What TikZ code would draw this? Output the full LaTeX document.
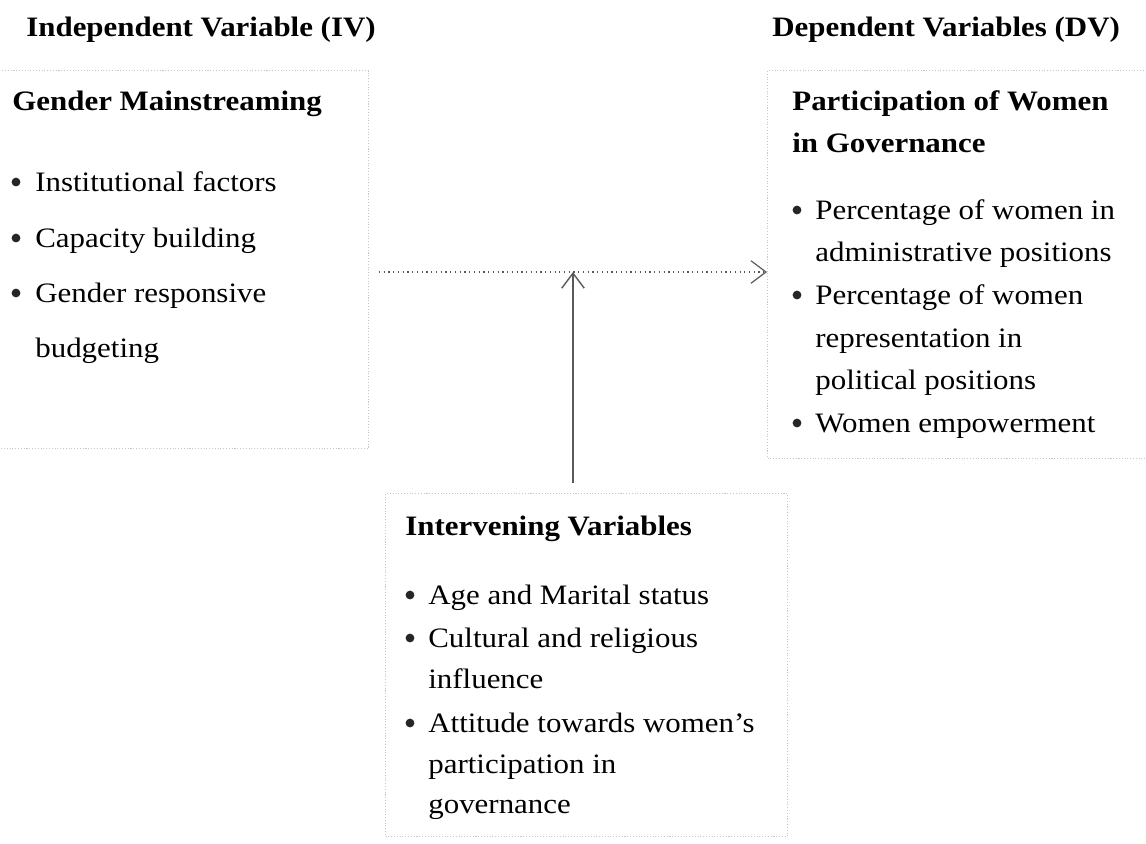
\documentclass[tikz,border=0pt]{standalone}
\usepackage{fontspec}
\setmainfont[FakeStretch = 1.1]{Liberation Serif}
\usetikzlibrary{arrows.meta}

\tikzset{
  frame/.style = {draw = black!22, densely dotted, line width = 0.6pt, anchor = north west},
  txt/.style = {anchor = base west, inner sep = 0pt},
  head/.style = {txt, font = \fontsize{16}{19}\selectfont\bfseries},
  dot/.style = {circle, fill = black!85, inner sep = 0pt, minimum size = 5pt},
  flow/.style = {-{Straight Barb[length = 3mm, width = 4.5mm]}, draw = black!65}
}

\begin{document}
\begin{tikzpicture}[x = 0.02cm, y = -0.02cm, font = \fontsize{16}{19}\selectfont]
    \useasboundingbox (0, 0) rectangle (1146, 843);

    % boxes
    \node [frame, minimum width = 7.46cm, minimum height = 7.56cm] (ivbox) at (-5, 70) {};
    \node [frame, minimum width = 7.7cm, minimum height = 7.76cm] (dvbox) at (767, 70) {};
    \node [frame, minimum width = 8.04cm, minimum height = 6.86cm] (invbox) at (385, 493) {};

    % titles
    \node [head] (ivtitle) at (26, 36) {Independent Variable (IV)};
    \node [head] (dvtitle) at (772, 36) {Dependent Variables (DV)};

    % independent variable
    \node [head] (ivhead) at (12, 110) {Gender Mainstreaming};
    \node [dot] (ivd1) at (16, 182) {};
    \node [txt] (iv1) at (35, 191) {Institutional factors};
    \node [dot] (ivd2) at (16, 238) {};
    \node [txt] (iv2) at (35, 247) {Capacity building};
    \node [dot] (ivd3) at (16, 293) {};
    \node [txt] (iv3) at (35, 302) {Gender responsive};
    \node [txt] (iv4) at (35, 357) {budgeting};

    % dependent variables
    \node [head] (dvhead1) at (792, 110) {Participation of Women};
    \node [head] (dvhead2) at (792, 152) {in Governance};
    \node [dot] (dvd1) at (797, 210) {};
    \node [txt] (dv1) at (815, 219) {Percentage of women in};
    \node [txt] (dv2) at (815, 261) {administrative positions};
    \node [dot] (dvd2) at (797, 295) {};
    \node [txt] (dv3) at (815, 304) {Percentage of women};
    \node [txt] (dv4) at (815, 347) {representation in};
    \node [txt] (dv5) at (815, 389) {political positions};
    \node [dot] (dvd3) at (797, 423) {};
    \node [txt] (dv6) at (815, 432) {Women empowerment};

    % intervening variables
    \node [head] (invhead) at (405, 535) {Intervening Variables};
    \node [dot] (invd1) at (410, 595) {};
    \node [txt] (inv1) at (428, 604) {Age and Marital status};
    \node [dot] (invd2) at (410, 638) {};
    \node [txt] (inv2) at (428, 647) {Cultural and religious};
    \node [txt] (inv3) at (428, 688) {influence};
    \node [dot] (invd3) at (410, 723) {};
    \node [txt] (inv4) at (428, 732) {Attitude towards women's};
    \node [txt] (inv5) at (428, 773) {participation in};
    \node [txt] (inv6) at (428, 813) {governance};

    % arrows
    \coordinate (meet) at (573, 272);
    \coordinate (rise) at (573, 483);
    \draw [flow, dotted, line width = 0.7pt, shorten <= 0.2cm] (ivbox.east |- meet) -- (dvbox.west |- meet);
    \draw [flow, line width = 0.8pt] (rise) -- (meet);
\end{tikzpicture}
\end{document}
